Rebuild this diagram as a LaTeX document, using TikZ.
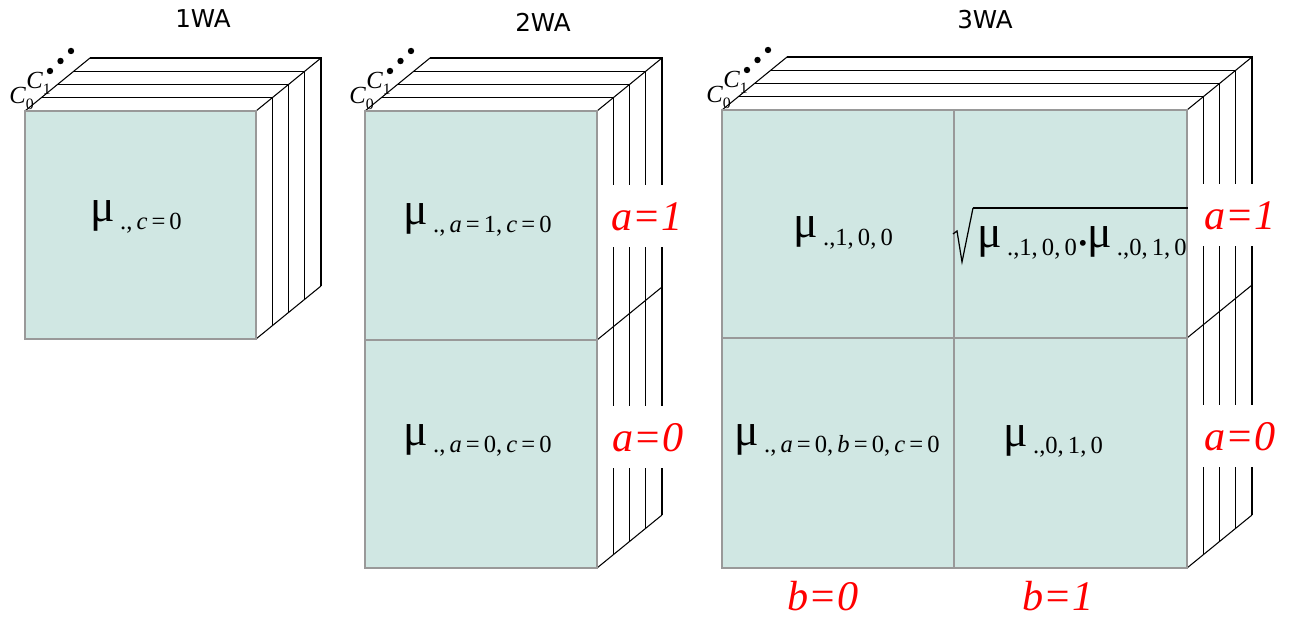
\documentclass[tikz,border=0pt]{standalone}
\usepackage{fontspec}
\setmainfont{Liberation Serif}
\newfontfamily\titlefont{DejaVu Sans}
\usetikzlibrary{calc}
\definecolor{facecyan}{HTML}{D0E7E3}
\definecolor{faceborder}{HTML}{999999}
\definecolor{labelred}{HTML}{FF0000}

% mu with its lowered index
\newcommand{\mulab}[1]{{\fontsize{26}{26}\selectfont μ}\hspace{3pt}\raisebox{-4pt}{\fontsize{14}{14}\selectfont #1}}
\newcommand{\eqs}{\,=\,}

% the four channel layers behind a front face (x0,y0)-(x1,y1)
\newcommand{\cubelayers}[4]{%
  \foreach \k in {1,...,4} {
    \draw[layerline] ($(#1,#2)+\k*(16.25,-13.25)$) -- ($(#3,#2)+\k*(16.25,-13.25)$)
      -- ($(#3,#4)+\k*(16.25,-13.25)$);
  }
  \draw[layerline] (#1,#2) -- ++(65,-53);
  \draw[layerline] (#3,#2) -- ++(65,-53);
  \draw[layerline] (#3,#4) -- ++(65,-53);
  \node[clab] at ($(#1,#2)+(-16,-7)$) {\textit{C}\raisebox{-3pt}{\fontsize{9}{9}\selectfont 0}};
  \node[clab] at ($(#1,#2)+(1,-22)$) {\textit{C}\raisebox{-3pt}{\fontsize{9}{9}\selectfont 1}};
  \foreach \d in {0,1,2} {
    \fill ($(#1,#2)+(25,-40)+\d*(10.5,-10)$) circle (3.2);
  }
}

\begin{document}
\begin{tikzpicture}[x=0.02cm, y=-0.02cm,
    layerline/.style={black, line width=0.6pt},
    faceline/.style={faceborder, line width=0.8pt},
    clab/.style={inner sep=0pt, anchor=base west, font=\fontsize{14}{14}\selectfont},
    mu/.style={inner sep=0pt, anchor=base west},
    redlab/.style={text=labelred, font=\fontsize{24}{24}\selectfont\itshape, inner sep=1pt},
    gaplab/.style={redlab, fill=white, inner ysep=9pt,
      text height=17pt, text depth=0pt},
    title/.style={font=\titlefont\fontsize{14}{14}\selectfont}]
  \useasboundingbox (0,0) rectangle (1293,617);

  % titles
  \node[title] (t1) at (203,19) {1WA};
  \node[title] (t2) at (543,22) {2WA};
  \node[title] (t3) at (985,20) {3WA};

  % 1WA
  \cubelayers{25}{111}{256}{339}
  \fill[facecyan] (25,111) rectangle (256,339);
  \draw[faceline] (25,111) rectangle (256,339);
  \node[mu] (m1) at (90,222) {\mulab{.,\,\textit{c}\eqs0}};

  % 2WA
  \cubelayers{365}{111}{597}{568}
  \draw[layerline] (597,340) -- ++(65,-53);
  \fill[facecyan] (365,111) rectangle (597,568);
  \draw[faceline] (365,111) rectangle (597,568);
  \draw[faceline] (365,340) -- (597,340);
  \node[mu] (m2a) at (403,225) {\mulab{.,\,\textit{a}\eqs1,\,\textit{c}\eqs0}};
  \node[mu] (m2b) at (403,445) {\mulab{.,\,\textit{a}\eqs0,\,\textit{c}\eqs0}};
  \node[gaplab] (a21) at (647,216) {a=1};
  \node[gaplab] (a20) at (648,437) {a=0};

  % 3WA
  \cubelayers{722}{110}{1187}{568}
  \draw[layerline] (1187,338) -- ++(65,-53);
  \fill[facecyan] (722,110) rectangle (1187,568);
  \draw[faceline] (722,110) rectangle (1187,568);
  \draw[faceline] (722,338) -- (1187,338);
  \draw[faceline] (954,110) -- (954,568);
  \node[mu] (m3a) at (793,238) {\mulab{.,1,\,0,\,0}};
  \node[mu] (m3c) at (734,445) {\mulab{.,\,\textit{a}\eqs0,\,\textit{b}\eqs0,\,\textit{c}\eqs0}};
  \node[mu] (m3d) at (1003,446) {\mulab{.,0,\,1,\,0}};
  \node[mu] (m3b) at (977,248) {\mulab{.,1,\,0,\,0}\hspace{1pt}\raisebox{-2pt}{\fontsize{14}{14}\selectfont\textbullet}\mulab{.,0,\,1,\,0}};
  \draw[line width=0.7pt] (953,234) -- (957,231) -- (962,262) -- (973,208);
  \draw[line width=1.2pt] (973,208) -- (1188,208);
  \node[gaplab] (a31) at (1240,215) {a=1};
  \node[gaplab] (a30) at (1240,436) {a=0};
  \node[redlab] (b0) at (823,596) {b=0};
  \node[redlab] (b1) at (1058,596) {b=1};
\end{tikzpicture}
\end{document}
